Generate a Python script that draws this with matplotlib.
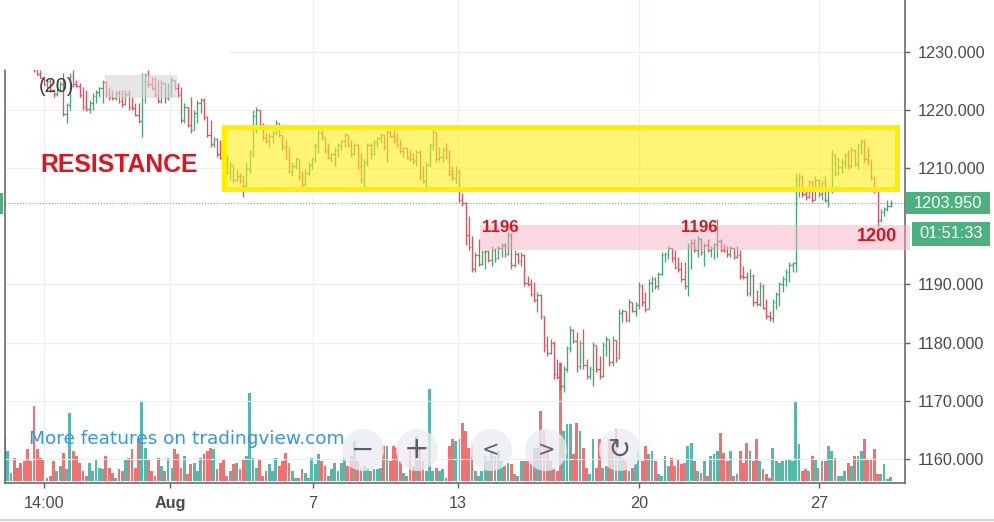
import matplotlib
matplotlib.use("Agg")
import matplotlib.pyplot as plt
import matplotlib.transforms as mtransforms
from matplotlib.collections import LineCollection
from matplotlib.patches import Rectangle, Circle
import numpy as np

# ---------------- data (2h bars, XAU/USD style) ----------------
first_open = 1229.0
close = [
    1230.0, 1231.0, 1231.4, 1230.5, 1229.8, 1229.2, 1228.8, 1228.2, 1227.8, 1227.0,
    1226.2, 1225.6, 1224.5, 1225.0, 1223.5, 1222.8, 1223.6, 1224.5, 1219.3, 1220.8,
    1225.8, 1224.5, 1224.2, 1222.6, 1220.6, 1220.2, 1221.2, 1222.5, 1223.2, 1223.8,
    1224.8, 1222.8, 1222.2, 1222.0, 1223.0, 1221.6, 1221.0, 1222.8, 1220.5, 1220.3,
    1219.2, 1218.2, 1225.0, 1226.0, 1224.5, 1223.8, 1222.6, 1221.6, 1224.6, 1222.0,
    1224.2, 1225.2, 1223.8, 1222.6, 1218.3, 1220.5, 1217.5, 1216.6, 1219.5, 1221.2,
    1221.8, 1218.8, 1215.8, 1214.2, 1215.0, 1212.5, 1211.8, 1211.0, 1209.3, 1210.5,
    1208.0, 1208.6, 1207.8, 1207.0, 1209.8, 1212.6, 1219.0, 1220.0, 1217.5, 1215.2,
    1214.6, 1215.5, 1216.0, 1217.8, 1215.8, 1213.6, 1211.8, 1209.6, 1210.3, 1211.5,
    1208.5, 1207.2, 1209.2, 1210.5, 1211.6, 1213.8, 1216.0, 1215.3, 1213.0, 1211.8,
    1212.4, 1213.2, 1214.0, 1214.6, 1215.8, 1214.0, 1212.4, 1214.0, 1210.3, 1208.0,
    1211.0, 1214.0, 1212.5, 1214.5, 1215.2, 1215.8, 1213.6, 1216.2, 1215.6, 1214.8,
    1214.0, 1213.0, 1213.5, 1211.8, 1211.6, 1211.2, 1212.8, 1208.6, 1207.8, 1210.5,
    1214.0, 1216.2, 1211.5, 1212.0, 1213.2, 1212.0, 1209.0, 1208.4, 1209.6, 1204.6,
    1204.0, 1198.5, 1196.5, 1192.6, 1195.0, 1193.5, 1195.5, 1195.8, 1194.2, 1196.0,
    1194.5, 1196.2, 1196.8, 1195.3, 1198.5, 1193.4, 1195.2, 1194.0, 1195.0, 1190.3,
    1190.0, 1188.4, 1187.3, 1188.2, 1184.5, 1179.5, 1178.2, 1180.0, 1174.5, 1174.0,
    1172.5, 1175.5, 1179.0, 1182.2, 1180.3, 1176.0, 1180.0, 1176.2, 1174.2, 1175.5,
    1179.6, 1175.4, 1174.2, 1179.5, 1180.6, 1176.6, 1180.5, 1177.3, 1185.0, 1185.5,
    1183.8, 1187.0, 1185.5, 1186.5, 1189.8, 1187.0, 1185.8, 1190.3, 1191.0, 1189.8,
    1191.8, 1195.0, 1195.3, 1196.2, 1194.5, 1193.0, 1192.6, 1191.0, 1189.8, 1196.6,
    1197.2, 1196.0, 1197.8, 1195.5, 1196.8, 1196.0, 1196.3, 1196.9, 1197.5, 1196.0,
    1195.8, 1195.2, 1196.2, 1194.8, 1195.0, 1191.4, 1191.2, 1188.5, 1191.5, 1187.0,
    1186.6, 1189.8, 1186.0, 1184.5, 1184.2, 1187.0, 1188.3, 1190.0, 1191.0, 1192.2,
    1193.4, 1193.6, 1208.0, 1208.5, 1205.6, 1205.0, 1207.6, 1204.6, 1208.0, 1205.5,
    1207.5, 1204.6, 1206.0, 1212.5, 1209.2, 1210.2, 1211.0, 1212.2, 1210.3, 1213.2,
    1210.8, 1213.8, 1214.6, 1211.5, 1211.0, 1208.3, 1206.2, 1201.0, 1202.5, 1203.0,
    1203.5, 1203.95]
high = [
    1230.5, 1231.5, 1232.0, 1231.8, 1230.8, 1230.2, 1229.6, 1229.2, 1228.6, 1228.2,
    1227.2, 1226.9, 1225.5, 1225.2, 1225.3, 1223.6, 1223.8, 1225.0, 1226.4, 1221.3,
    1226.4, 1226.9, 1225.2, 1224.7, 1224.0, 1223.5, 1221.8, 1223.0, 1223.5, 1224.0,
    1225.2, 1225.0, 1224.0, 1223.5, 1223.5, 1223.5, 1223.5, 1223.5, 1223.5, 1222.3,
    1221.3, 1221.3, 1226.4, 1226.4, 1226.9, 1225.7, 1225.7, 1225.2, 1225.2, 1224.7,
    1224.7, 1225.7, 1225.2, 1224.7, 1224.0, 1221.3, 1220.6, 1222.3, 1220.1, 1221.8,
    1222.0, 1222.0, 1218.9, 1218.3, 1215.4, 1215.2, 1214.9, 1213.2, 1212.3, 1211.0,
    1210.6, 1209.8, 1209.2, 1208.9, 1211.0, 1213.2, 1220.1, 1220.6, 1220.1, 1217.8,
    1216.1, 1216.1, 1216.6, 1218.3, 1217.8, 1215.4, 1214.9, 1213.7, 1211.0, 1212.0,
    1211.5, 1209.5, 1209.8, 1211.0, 1212.0, 1214.4, 1216.6, 1216.6, 1215.4, 1214.4,
    1212.7, 1213.7, 1214.4, 1214.9, 1216.1, 1215.8, 1214.9, 1214.4, 1214.2, 1212.7,
    1211.5, 1214.4, 1214.4, 1214.9, 1215.4, 1216.1, 1215.9, 1216.6, 1216.6, 1216.6,
    1216.1, 1214.9, 1213.7, 1213.6, 1213.2, 1212.7, 1213.2, 1213.2, 1210.3, 1211.0,
    1214.4, 1216.6, 1216.3, 1213.7, 1213.7, 1214.4, 1213.2, 1210.3, 1210.3, 1209.8,
    1205.8, 1204.2, 1201.7, 1198.3, 1195.5, 1197.8, 1196.0, 1196.0, 1196.0, 1196.6,
    1196.2, 1196.6, 1197.2, 1197.2, 1199.0, 1198.8, 1196.0, 1195.5, 1195.5, 1195.2,
    1191.4, 1190.9, 1190.4, 1188.7, 1188.4, 1184.5, 1181.1, 1180.6, 1180.2, 1177.2,
    1176.7, 1176.0, 1179.4, 1182.8, 1182.3, 1181.8, 1180.5, 1182.3, 1177.2, 1176.0,
    1180.1, 1179.6, 1177.7, 1180.1, 1181.1, 1180.6, 1181.1, 1180.5, 1185.7, 1185.7,
    1185.5, 1187.5, 1187.0, 1186.9, 1190.4, 1190.0, 1188.7, 1190.9, 1191.4, 1191.2,
    1192.1, 1195.5, 1195.5, 1196.6, 1196.2, 1196.0, 1194.8, 1193.8, 1193.8, 1197.2,
    1197.8, 1197.8, 1198.3, 1198.0, 1197.2, 1197.8, 1196.6, 1197.2, 1201.2, 1197.8,
    1197.0, 1196.6, 1196.6, 1196.3, 1196.6, 1196.0, 1193.1, 1192.1, 1192.6, 1191.8,
    1189.0, 1190.4, 1190.0, 1187.5, 1185.5, 1187.5, 1188.7, 1190.4, 1191.4, 1192.6,
    1193.8, 1193.8, 1209.2, 1209.2, 1208.8, 1206.3, 1208.0, 1208.0, 1208.6, 1208.2,
    1208.0, 1208.6, 1206.3, 1213.2, 1212.5, 1212.0, 1211.5, 1212.7, 1213.2, 1213.7,
    1213.2, 1214.4, 1215.0, 1215.0, 1213.7, 1211.5, 1208.6, 1206.2, 1203.0, 1203.4,
    1204.6, 1204.6]
low = [
    1228.8, 1229.8, 1230.6, 1230.0, 1229.2, 1228.6, 1228.2, 1227.8, 1227.2, 1226.6,
    1226.0, 1225.5, 1224.2, 1223.8, 1223.2, 1222.3, 1222.5, 1223.3, 1218.9, 1217.8,
    1220.1, 1224.0, 1224.0, 1222.3, 1220.1, 1219.8, 1219.5, 1220.1, 1221.3, 1222.3,
    1221.3, 1222.3, 1221.8, 1221.8, 1221.8, 1221.3, 1220.6, 1220.8, 1220.1, 1220.1,
    1218.9, 1217.8, 1215.4, 1221.3, 1224.0, 1223.5, 1222.3, 1221.3, 1221.3, 1221.3,
    1221.8, 1222.3, 1223.5, 1222.3, 1217.8, 1217.8, 1217.1, 1216.1, 1216.6, 1217.8,
    1219.5, 1218.3, 1215.4, 1213.7, 1213.7, 1212.0, 1211.5, 1210.8, 1209.0, 1208.0,
    1207.5, 1207.8, 1207.5, 1205.0, 1206.8, 1209.2, 1212.0, 1216.1, 1217.1, 1214.9,
    1214.4, 1213.7, 1214.4, 1215.8, 1215.4, 1213.2, 1211.5, 1209.2, 1208.6, 1209.8,
    1208.0, 1206.8, 1206.9, 1208.6, 1209.8, 1211.0, 1212.7, 1214.9, 1212.7, 1211.5,
    1211.0, 1210.3, 1212.0, 1213.2, 1213.7, 1213.7, 1212.0, 1212.2, 1209.8, 1207.5,
    1206.8, 1210.3, 1211.5, 1212.2, 1213.7, 1214.4, 1213.2, 1211.0, 1215.4, 1214.4,
    1213.7, 1212.7, 1212.0, 1211.5, 1211.2, 1210.8, 1210.3, 1208.0, 1207.5, 1206.3,
    1210.2, 1213.2, 1211.0, 1211.2, 1211.0, 1211.5, 1208.6, 1208.0, 1207.5, 1204.1,
    1203.5, 1196.8, 1196.0, 1192.1, 1192.1, 1193.1, 1193.3, 1192.6, 1193.8, 1193.1,
    1193.8, 1194.3, 1194.8, 1194.8, 1195.0, 1192.6, 1193.0, 1193.5, 1193.1, 1189.7,
    1189.7, 1188.0, 1186.9, 1185.2, 1184.0, 1178.4, 1177.7, 1178.0, 1173.7, 1173.7,
    1171.8, 1171.5, 1174.9, 1178.4, 1179.9, 1174.9, 1175.5, 1175.5, 1173.7, 1173.7,
    1172.5, 1174.9, 1173.7, 1174.0, 1177.7, 1176.0, 1176.0, 1176.7, 1177.2, 1183.5,
    1183.5, 1183.6, 1185.2, 1184.5, 1185.7, 1186.3, 1185.2, 1185.7, 1188.7, 1189.2,
    1189.2, 1191.6, 1193.8, 1194.3, 1193.8, 1192.6, 1192.1, 1190.4, 1189.2, 1188.0,
    1192.6, 1195.5, 1194.8, 1195.0, 1193.1, 1195.5, 1194.8, 1194.3, 1194.8, 1195.5,
    1195.5, 1194.8, 1194.8, 1194.3, 1194.6, 1190.9, 1190.9, 1188.0, 1188.0, 1186.3,
    1186.3, 1186.3, 1185.7, 1184.0, 1183.7, 1183.5, 1185.7, 1186.3, 1188.7, 1189.7,
    1190.4, 1192.1, 1192.1, 1205.1, 1205.1, 1204.6, 1204.8, 1204.1, 1204.5, 1205.1,
    1204.6, 1204.1, 1203.4, 1205.8, 1208.6, 1208.9, 1209.2, 1210.0, 1209.8, 1210.0,
    1210.3, 1209.8, 1212.5, 1211.0, 1210.5, 1208.0, 1205.8, 1200.0, 1200.8, 1201.7,
    1202.7, 1203.3]
volume = [
    43, 30, 8, 23, 13, 18, 20,
    32, 20, 75, 32, 23, 22, 3, 5, 20, 10, 15, 28, 12, 68, 30, 25, 18, 10, 5, 18,
    10, 22, 13, 12, 25, 13, 8, 3, 12, 10, 22, 23, 32, 13, 42, 80, 33, 22, 10, 5,
    23, 15, 10, 23, 13, 32, 27, 13, 25, 7, 17, 18, 10, 23, 27,
    30,
    33, 32, 12, 18, 22, 5, 10, 17, 18, 12, 22, 25, 88, 23, 13, 22, 5, 10, 17, 10,
    23, 15, 20, 28, 18, 10, 3, 3, 12, 8, 3, 23, 17, 27, 20, 15, 5, 12, 18, 10,
    18, 23, 15, 25, 40, 20, 13, 15, 13, 10,
    12,
    12, 13, 35, 35, 20, 35, 33, 20, 8, 5, 30, 15, 45, 33, 20, 10, 92, 10, 13, 10,
    12, 3, 35, 42, 40, 42, 58, 50, 33, 35, 10, 5, 10, 25, 20, 30, 25, 30, 20, 15,
    18,
    17, 7, 5, 20, 20, 20, 20, 33, 33, 70, 50, 33, 20, 13, 10, 118, 50, 57, 57, 27,
    58, 50, 33, 13, 7, 42, 13, 42, 13, 15, 42, 37, 52, 27, 23, 20, 10, 13, 17, 30,
    20, 35, 27, 30, 20, 7, 5, 25, 15, 23,
    15,
    22, 17, 18, 35, 38, 20, 10, 8, 20, 5, 25, 27, 30, 48, 28, 20, 30, 5, 7, 30,
    18, 38, 30, 20, 42, 20, 12, 7, 3, 33,
    20,
    18, 20, 22, 22, 20, 80, 37, 10, 12, 10, 25, 22, 13, 20, 20, 35, 30, 23, 5, 5,
    10, 18, 15, 25, 25, 30, 42, 22, 22, 32, 7, 7, 17, 2,
    4]

tick_pos = [12.1, 50.6, 94.4, 138.7, 194.0, 249.1]
tick_labels = ['14:00', 'Aug', '7', '13', '20', '27']
price_ticks = [1160, 1170, 1180, 1190, 1210, 1220, 1230]
last_price = 1203.95
countdown = '01:51:33'
resistance_zone = (1206.5, 1217.05)
support_zone = (1195.9, 1200.2)

# ---------------- figure ----------------
W, H = 994, 522
fig = plt.figure(figsize=(W / 100, H / 100), dpi=100)
fig.patch.set_facecolor('white')


def fx(px):
    return px / W


def fy(py):
    return 1 - py / H


rect = [fx(5), fy(483), 900 / W, 483 / H]
ax = fig.add_axes(rect)
axv = fig.add_axes(rect, sharex=ax)
axv.set_zorder(0)
ax.set_zorder(1)
ax.patch.set_alpha(0)

xlim = (0.15, 275.4)
ylim = (1155.82, 1238.95)

n = min(len(close), len(high), len(low), len(volume))
c = np.array(close[:n])
h = np.array(high[:n])
lo = np.array(low[:n])
o = np.r_[first_open, c[:-1]]
x = np.arange(n)
up = c >= o

GREEN = '#3fa874'
RED = '#e5505c'
VUP = '#55b8aa'
VDN = '#ef7171'

# volume
axv.bar(x, np.array(volume[:n]), width=0.86,
        color=[VUP if u else VDN for u in up], linewidth=0)
axv.set_ylim(-2, 481)
axv.axis('off')

# OHLC bars
segs, cols = [], []
for i in range(n):
    col = GREEN if up[i] else RED
    top = max(h[i], o[i], c[i])
    bot = min(lo[i], o[i], c[i])
    segs += [[(x[i], bot), (x[i], top)],
             [(x[i] - 0.45, o[i]), (x[i], o[i])],
             [(x[i], c[i]), (x[i] + 0.45, c[i])]]
    cols += [col] * 3
ax.add_collection(LineCollection(segs, colors=cols, linewidths=0.95, zorder=3))

ax.set_xlim(*xlim)
ax.set_ylim(*ylim)

# grid
ax.set_xticks(tick_pos)
ax.set_xticklabels(tick_labels)
ax.set_yticks(price_ticks)
ax.set_yticklabels(['%.3f' % v for v in price_ticks])
ax.grid(True, color='#eceff3', lw=0.8, zorder=0)
ax.set_axisbelow(True)

# axes styling
SP = '#5f5f5f'
ax.spines['top'].set_visible(False)
for s in ['left', 'right', 'bottom']:
    ax.spines[s].set_color(SP)
    ax.spines[s].set_linewidth(1.1)
ax.spines['left'].set_bounds(ylim[0], 1226.9)
ax.yaxis.tick_right()
ax.tick_params(axis='y', direction='out', length=3.5, width=1, colors=SP,
               labelcolor='#4b4b4b', labelsize=11.7, pad=5.5)
ax.tick_params(axis='x', direction='out', length=3.5, width=1, colors=SP,
               labelcolor='#4b4b4b', labelsize=11.7, pad=6)
for t in ax.get_xticklabels() + ax.get_yticklabels():
    t.set_fontfamily('Liberation Sans')
ax.get_xticklabels()[1].set_fontweight('bold')

# current price dotted line
ax.axhline(last_price, color='#57b58a', lw=0.8, ls=(0, (1, 1.6)), zorder=2)

# top-left blank area
ax.add_patch(Rectangle((xlim[0], 1226.9), 69 - xlim[0], 20, facecolor='white',
                       edgecolor='none', zorder=6))

# resistance zone
ax.add_patch(Rectangle((67.1, resistance_zone[0]), 273.1 - 67.1,
                       resistance_zone[1] - resistance_zone[0],
                       facecolor=(1.0, 0.93, 0.1, 0.6), edgecolor='#ffee00',
                       lw=3.6, zorder=5, clip_on=False))
# support zone
ax.add_patch(Rectangle((145.4, support_zone[0]), 276.9 - 145.4,
                       support_zone[1] - support_zone[0],
                       facecolor=(0.965, 0.66, 0.74, 0.45), edgecolor='none',
                       zorder=5, clip_on=False))

RTXT = '#e1141e'
BOLDF = 'Liberation Sans'
ax.text(10.86, 1209.43, 'RESISTANCE', ha='left', va='baseline', fontsize=17.8,
        fontweight='bold', family=BOLDF, color=RTXT, zorder=8)
ax.text(146.0, 1199.02, '1196', ha='left', va='baseline', fontsize=12.2,
        fontweight='bold', family=BOLDF, color=RTXT, zorder=8)
ax.text(207.0, 1199.1, '1196', ha='left', va='baseline', fontsize=12.2,
        fontweight='bold', family=BOLDF, color=RTXT, zorder=8)
ax.text(260.7, 1197.47, '1200', ha='left', va='baseline', fontsize=13,
        fontweight='bold', family=BOLDF, color=RTXT, zorder=8)

# price label + countdown
bt = mtransforms.blended_transform_factory(ax.transAxes, ax.transData)
LBL = '#4cb07f'
ax.add_patch(Rectangle((1.0011, last_price - 22 / 5.81 / 2), 84 / 900, 22 / 5.81,
                       transform=bt, facecolor=LBL, edgecolor='none',
                       clip_on=False, zorder=9))
ax.text(1.0011 + 42 / 900, last_price, '%.3f' % last_price, transform=bt,
        ha='center', va='center', color='white', fontsize=11.8,
        family='Liberation Sans', zorder=10, clip_on=False)
off = mtransforms.ScaledTranslation(0, -0.306, fig.dpi_scale_trans)
ax.add_patch(Rectangle((1.0078, last_price - 24 / 5.81 / 2), 78 / 900, 24 / 5.81,
                       transform=bt + off, facecolor=LBL, edgecolor='none',
                       clip_on=False, zorder=9))
ax.text(1.0078 + 39 / 900, last_price, countdown, transform=bt + off,
        ha='center', va='center', color='white', fontsize=11.8,
        family='Liberation Sans', zorder=10, clip_on=False)

# indicator legend remnants
fig.text(fx(56), fy(87), '(20)', ha='center', va='center', fontsize=14.5,
         family='Liberation Sans', color='#3c3c3c', zorder=10)
fig.add_artist(Rectangle((fx(105), fy(98)), fx(72), 23 / H, transform=fig.transFigure,
                         facecolor='#d6d6d6', alpha=0.6, edgecolor='none', zorder=10))

# watermark text
fig.text(fx(29), fy(444), 'More features on tradingview.com', ha='left',
         va='baseline', fontsize=13.3, family='DejaVu Sans', color='#3596e4', zorder=10)

# navigation buttons
for cx, sym, fs in [(363, '\u2212', 20), (417, '+', 22), (491, '<', 15),
                    (546, '>', 15), (620, '\u21bb', 20)]:
    fig.add_artist(Circle((cx / 100, (H - 450) / 100), 0.21,
                          transform=fig.dpi_scale_trans, facecolor=(0.92, 0.93, 0.945),
                          alpha=0.8, edgecolor='none', zorder=10))
    fig.text(fx(cx), fy(450), sym, ha='center', va='center', fontsize=fs,
             color='#5b5f6b', family='DejaVu Sans', zorder=11)

# small edge elements
fig.add_artist(Rectangle((0, fy(214)), fx(3), 21 / H, transform=fig.transFigure,
                         facecolor=LBL, edgecolor='none', zorder=10))
fig.add_artist(plt.Line2D([0, 1], [fy(519.5), fy(519.5)], transform=fig.transFigure,
                          color='#d3d6dc', lw=1.5, zorder=10))

fig.savefig('out.png', dpi=100)
